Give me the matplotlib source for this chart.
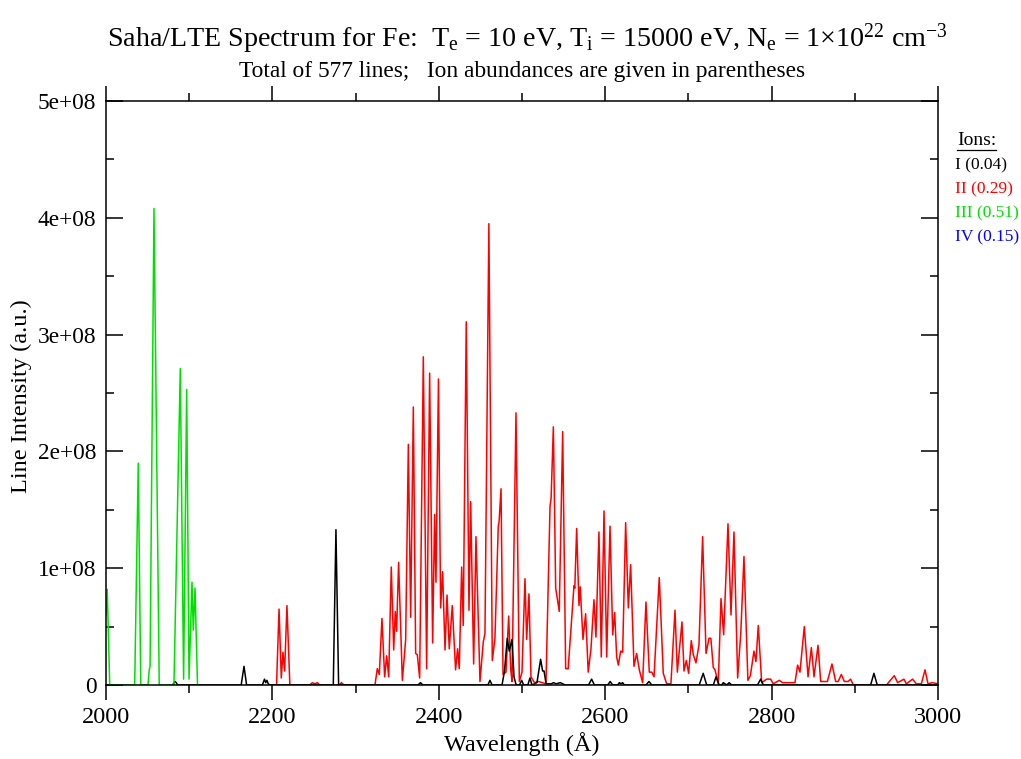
import matplotlib
matplotlib.use('Agg')
import matplotlib.pyplot as plt
from matplotlib.lines import Line2D
from matplotlib.ticker import MultipleLocator

plt.rc('font', family='Liberation Serif')
plt.rc('mathtext', fontset='custom', rm='Liberation Serif', it='Liberation Serif:italic')

# line-profile vertices (wavelength in A, intensity in 1e8 a.u.)
fe3_wl = [2000, 2001.5, 2004.5, 2034.5, 2038.8, 2041.8, 2050.5, 2052, 2053, 2057.7, 2064,
          2081.7, 2089.3, 2093.3, 2097, 2099.8, 2103.4, 2104.9, 2107, 2110]
fe3_int = [0.6, 0.82, 0, 0, 1.90, 0, 0, 0.13, 0.16, 4.08, 0,
           0, 2.71, 0.05, 2.53, 0.05, 0.88, 0.47, 0.83, 0]

fe2_wl = [2205, 2208, 2210.7, 2212.7, 2214.7, 2217.5, 2221, 2245, 2248, 2251, 2254, 2257,
          2280, 2283, 2286, 2323.3, 2326.1, 2328.5, 2331.7, 2334.9, 2337.4, 2339.8, 2342.9,
          2345.8, 2347.7, 2349.3, 2351.7, 2356.2, 2360.2, 2363.4, 2366.2, 2369.4, 2372.2,
          2374.2, 2377, 2381.4, 2385.4, 2389, 2392.6, 2395, 2396.6, 2399.6, 2402.2, 2404.6,
          2407.5, 2409.9, 2412.6, 2416.2, 2420.2, 2422.6, 2424.6, 2427.5, 2429.4, 2433,
          2436.3, 2438.3, 2441.9, 2444.7, 2449.5, 2453.5, 2455.5, 2460.2, 2464.3, 2467.5,
          2471.5, 2472.5, 2474.8, 2477.2, 2480.8, 2484, 2486.4, 2488, 2492.8, 2496.8, 2500,
          2503.6, 2505.6, 2508.4, 2510.8, 2515, 2520, 2528.8, 2533.7, 2535, 2537.7, 2540.5,
          2544.8, 2548.9, 2552.5, 2555.5, 2558.9, 2562.5, 2563.5, 2565.7, 2568.5, 2570,
          2573.3, 2576.5, 2579.6, 2582.9, 2586.5, 2588.9, 2592.5, 2595.3, 2598.6, 2601.8,
          2605.8, 2609, 2611.4, 2613.8, 2615.8, 2618.6, 2621, 2624.6, 2627.8, 2630.6,
          2634.6, 2637.8, 2641, 2645, 2649, 2653, 2656, 2658.7, 2665, 2669.8, 2673.9, 2679,
          2683.9, 2686.7, 2692.3, 2694.7, 2697.5, 2700.3, 2703.5, 2705.9, 2709.1, 2712.7,
          2717.1, 2721.2, 2724.8, 2727, 2729.9, 2732, 2735.9, 2739.2, 2742.4, 2747.6,
          2751.2, 2754.8, 2759.2, 2763, 2766.8, 2771.5, 2774.5, 2778.8, 2781.2, 2784,
          2788.1, 2794.1, 2798.9, 2802, 2809.3, 2813, 2820.1, 2828.1, 2831.3, 2834.1,
          2839.3, 2843.8, 2847.8, 2851, 2855.8, 2859, 2867, 2872.6, 2877, 2880, 2883.8,
          2887.4, 2892, 2895, 2898.2, 2938.3, 2941.5, 2947.5, 2951.5, 2959.1, 2962,
          2969.5, 2974, 2980, 2984.4, 2988, 2993, 3000]
fe2_int = [0, 0.65, 0.06, 0.28, 0.12, 0.68, 0, 0, 0.02, 0.01, 0.02, 0,
           0, 0.02, 0, 0, 0.14, 0.09, 0.57, 0.07, 0.25, 0.07, 1.01,
           0.30, 0.63, 0.46, 1.05, 0.04, 0.39, 2.06, 0.58, 2.38, 0.27,
           0.26, 0.06, 2.81, 0.14, 2.67, 0.36, 1.46, 0.88, 2.62, 0.66, 0.97,
           0.30, 0.77, 0.31, 0.68, 0.13, 0.31, 0.14, 1.01, 0.51, 3.11,
           0.64, 1.57, 0.18, 1.27, 0.03, 0.37, 0.44, 3.95, 0.21, 0.40,
           1.36, 1.40, 1.68, 0.09, 0.11, 0.59, 0.14, 0.03, 2.33, 0.03, 0.11,
           0.91, 0.39, 0.78, 0.07, 0.02, 0.03, 0.01, 1.53, 1.60, 2.21, 0.83,
           0.63, 2.17, 0.14, 0.14, 0.49, 0.85, 0.83, 1.34, 0.68, 0.84,
           0.39, 0.61, 0.11, 0.31, 0.73, 0.41, 1.31, 0.24, 1.49, 0.24,
           1.36, 0.43, 0.62, 0.24, 0.17, 0.29, 0.28, 1.39, 0.66, 1.03,
           0.16, 0.27, 0.13, 0.02, 0.71, 0.11, 0.11, 0.07, 0.92, 0.10, 0.01, 0.01,
           0.64, 0.11, 0.54, 0.12, 0.21, 0.10, 0.38, 0.26, 0.19, 0.34,
           1.27, 0.27, 0.40, 0.40, 0.15, 0.13, 0.01, 0.74, 0.43, 1.38,
           0.60, 1.31, 0.06, 0.45, 1.10, 0.04, 0.08, 0.29, 0.20, 0.51,
           0.02, 0.05, 0.05, 0.01, 0.04, 0.02, 0.02, 0.02, 0.17, 0.11,
           0.50, 0.07, 0.32, 0.07, 0.34, 0.03, 0.03, 0.18, 0.03, 0.03, 0.09,
           0.03, 0.03, 0.05, 0.0, 0.0, 0.03, 0.08, 0.02, 0.05, 0.01,
           0.05, 0.01, 0.01, 0.13, 0.01, 0.02, 0.01]

fe1_wl = [2080, 2083, 2084.5, 2086, 2130, 2162.5, 2165.9, 2169, 2188, 2190.5, 2192, 2193.5,
          2195, 2197, 2270, 2273.2, 2276.4, 2279.6, 2375, 2378, 2381, 2456, 2459, 2461.5,
          2464, 2476, 2479, 2482.3, 2484.7, 2488, 2490.4, 2493, 2497, 2499.6, 2502, 2507,
          2509.6, 2512, 2518, 2522.4, 2524.8, 2526.5, 2529, 2535, 2538, 2541, 2546, 2549,
          2552, 2580, 2583.7, 2587, 2603, 2606, 2609, 2615, 2617, 2619, 2621, 2623, 2649,
          2652.6, 2656, 2713, 2717.8, 2722, 2730, 2733.2, 2737, 2740, 2742, 2746, 2749,
          2752, 2783, 2786.9, 2790, 2919, 2923, 2927, 3000]
fe1_int = [0, 0.03, 0.02, 0, 0, 0, 0.16, 0, 0, 0.05, 0.02, 0.04,
           0.01, 0, 0, 0, 1.33, 0, 0, 0.02, 0, 0, 0, 0.04,
           0, 0, 0.12, 0.40, 0.29, 0.39, 0.07, 0, 0, 0.04, 0, 0,
           0.06, 0, 0.02, 0.22, 0.12, 0.12, 0.01, 0.01, 0.02, 0.01, 0.02, 0.01,
           0, 0, 0.05, 0, 0, 0.03, 0, 0, 0.02, 0.01, 0.02, 0, 0,
           0.03, 0, 0, 0.10, 0, 0, 0.07, 0, 0, 0.02, 0, 0.02,
           0, 0, 0.05, 0, 0, 0.10, 0, 0]

ion_names = ['I', 'II', 'III', 'IV']
ion_abund = [0.04, 0.29, 0.51, 0.15]
ion_colors = ['black', '#ff0000', '#00e000', '#0000ff']

fig = plt.figure(figsize=(10.21, 7.59), dpi=100)
ax = fig.add_axes([0.1038, 0.0975, 0.8149, 0.7694])

ax.plot(fe2_wl, [v * 1e8 for v in fe2_int], color=ion_colors[1], lw=1.1)
ax.plot(fe1_wl, [v * 1e8 for v in fe1_int], color=ion_colors[0], lw=1.1)
ax.plot(fe3_wl, [v * 1e8 for v in fe3_int], color=ion_colors[2], lw=1.1)

ax.set_xlim(2000, 3000)
ax.set_ylim(0, 5e8)
ax.xaxis.set_major_locator(MultipleLocator(200))
ax.xaxis.set_minor_locator(MultipleLocator(100))
ax.set_yticks([0, 1e8, 2e8, 3e8, 4e8, 5e8])
ax.set_yticklabels(['0', '1e+08', '2e+08', '3e+08', '4e+08', '5e+08'])
ax.yaxis.set_minor_locator(MultipleLocator(0.5e8))

ax.tick_params(axis='x', which='both', direction='out', top=True, bottom=True,
               labelsize=17.5, width=1.1, pad=5)
ax.tick_params(axis='x', which='major', length=11)
ax.tick_params(axis='x', which='minor', length=6)
ax.tick_params(axis='y', which='both', direction='in', left=True, right=True,
               labelsize=16.8, width=1.1, pad=7)
ax.tick_params(axis='y', which='major', length=12)
ax.tick_params(axis='y', which='minor', length=6)
for s in ax.spines.values():
    s.set_linewidth(1.1)

ax.set_xlabel('Wavelength (Å)', fontsize=17.5, labelpad=3)
ax.set_ylabel('Line Intensity (a.u.)', fontsize=17.5)
ax.yaxis.set_label_coords(-0.089, 0.494)

fig.text(0.516, 0.939,
         r'Saha/LTE Spectrum for Fe:  T$_\mathregular{e}$ = 10 eV, T$_\mathregular{i}$ = 15000 eV, '
         r'N$_\mathregular{e}$ = 1×10$^\mathregular{22}$ cm$^\mathregular{-3}$',
         ha='center', va='baseline', fontsize=20.2)
fig.text(0.511, 0.898, 'Total of 577 lines;   Ion abundances are given in parentheses',
         ha='center', va='baseline', fontsize=16.8)

# ion legend on the right
fig.text(0.9375, 0.809, 'Ions:', fontsize=14, ha='left', va='baseline')
fig.add_artist(Line2D([0.9375, 0.9755], [0.803, 0.803], color='black', lw=0.9))
for k, (name, ab, col) in enumerate(zip(ion_names, ion_abund, ion_colors)):
    fig.text(0.9355, 0.777 - k * 0.0316, f'{name} ({ab:.2f})', color=col,
             fontsize=12.5, ha='left', va='baseline')

fig.savefig('out.png', dpi=100)
